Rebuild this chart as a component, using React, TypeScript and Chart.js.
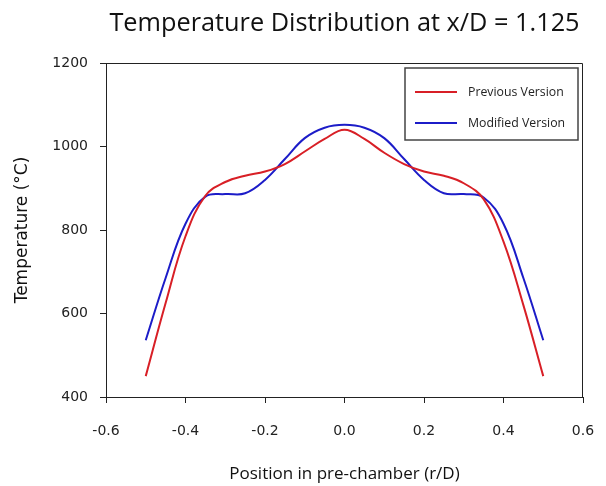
import React, { useEffect, useRef } from "react";
import { Chart, registerables } from "chart.js";

Chart.register(...registerables);

const chartTitle = "Temperature Distribution at x/D = 1.125";
const xAxisTitle = "Position in pre-chamber (r/D)";
const yAxisTitle = "Temperature (°C)";
const seriesLabels = ["Previous Version", "Modified Version"];

const positions = [
  -0.5, -0.45, -0.4, -0.35, -0.3, -0.25, -0.2, -0.15, -0.1, -0.05, 0,
  0.05, 0.1, 0.15, 0.2, 0.25, 0.3, 0.35, 0.4, 0.45, 0.5,
];
const previousVersion = [
  450, 625, 785, 882, 915, 930, 940, 958, 988, 1018, 1040,
  1018, 985, 958, 940, 930, 912, 874, 772, 620, 450,
];
const modifiedVersion = [
  536, 685, 815, 880, 886, 888, 920, 970, 1020, 1045, 1052,
  1045, 1020, 970, 920, 888, 886, 878, 815, 685, 536,
];

const xTicks = { min: -0.6, max: 0.6, step: 0.2 };
const yTicks = { min: 400, max: 1200, step: 200 };

const RED = "#d81f26";
const BLUE = "#1c1cc8";

const decorPlugin = {
  id: "decor",
  afterDraw(chart: any) {
    const ctx = chart.ctx;
    const a = chart.chartArea;
    ctx.save();
    // frame
    ctx.strokeStyle = "#222";
    ctx.lineWidth = 1;
    ctx.beginPath();
    ctx.moveTo(a.left + 0.5, a.top + 0.5);
    ctx.lineTo(a.right - 0.5, a.top + 0.5);
    ctx.lineTo(a.right - 0.5, a.bottom);
    ctx.stroke();
    // title
    ctx.fillStyle = "#111";
    ctx.font = "25.3px 'Open Sans'";
    ctx.textAlign = "center";
    ctx.textBaseline = "middle";
    ctx.fillText(chartTitle, (a.left + a.right) / 2, 24);
    // legend
    const lx = 405, ly = 68, lw = 173, lh = 72;
    ctx.fillStyle = "#fff";
    ctx.fillRect(lx, ly, lw, lh);
    ctx.strokeStyle = "#444";
    ctx.lineWidth = 1.5;
    ctx.strokeRect(lx, ly, lw, lh);
    ctx.font = "12.3px 'Open Sans'";
    ctx.textAlign = "left";
    chart.data.datasets.forEach((ds: any, i: number) => {
      const y = 92 + i * 31;
      ctx.strokeStyle = ds.borderColor;
      ctx.lineWidth = 2;
      ctx.beginPath();
      ctx.moveTo(415, y);
      ctx.lineTo(457, y);
      ctx.stroke();
      ctx.fillStyle = "#222";
      ctx.fillText(ds.label, 468, y);
    });
    ctx.restore();
  },
};

export default function App() {
  const ref = useRef<HTMLCanvasElement>(null);
  useEffect(() => {
    if (!ref.current) return;
    const chart = new Chart(ref.current, {
      type: "line",
      data: {
        datasets: [
          {
            label: seriesLabels[0],
            data: positions.map((x, i) => ({ x, y: previousVersion[i] })),
            borderColor: RED,
            backgroundColor: RED,
            borderWidth: 2,
            pointRadius: 0,
            tension: 0.4,
          },
          {
            label: seriesLabels[1],
            data: positions.map((x, i) => ({ x, y: modifiedVersion[i] })),
            borderColor: BLUE,
            backgroundColor: BLUE,
            borderWidth: 2,
            pointRadius: 0,
            tension: 0.4,
          },
        ],
      },
      options: {
        responsive: false,
        animation: false,
        layout: { autoPadding: false, padding: { top: 63, right: 23, left: 0, bottom: 0 } },
        plugins: { legend: { display: false }, title: { display: false }, tooltip: { enabled: false } },
        scales: {
          x: {
            type: "linear",
            min: xTicks.min,
            max: xTicks.max,
            afterFit: (s: any) => { s.height = 89; s.paddingLeft = 0; s.paddingRight = 0; },
            ticks: {
              stepSize: xTicks.step,
              callback: (v: any) => Number(v).toFixed(1),
              color: "#222",
              font: { family: "'DejaVu Sans'", size: 14 },
              padding: 20,
              maxRotation: 0,
            },
            grid: { drawOnChartArea: false, drawTicks: true, tickLength: 6, color: "#222" },
            border: { color: "#222", width: 1 },
            title: {
              display: true,
              text: xAxisTitle,
              color: "#111",
              font: { family: "'Open Sans'", size: 17 },
              padding: { top: 0, bottom: 2 },
            },
          },
          y: {
            type: "linear",
            min: yTicks.min,
            max: yTicks.max,
            afterFit: (s: any) => { s.width = 106; s.paddingTop = 0; s.paddingBottom = 0; },
            ticks: {
              stepSize: yTicks.step,
              callback: (v: any) => String(v),
              color: "#222",
              font: { family: "'DejaVu Sans'", size: 14 },
              padding: 12,
            },
            grid: { drawOnChartArea: false, drawTicks: true, tickLength: 6, color: "#222" },
            border: { color: "#222", width: 1 },
            title: {
              display: true,
              text: yAxisTitle,
              color: "#111",
              font: { family: "'DejaVu Sans'", size: 17 },
              padding: { top: 12, bottom: 0 },
            },
          },
        },
      },
      plugins: [decorPlugin],
    } as any);
    return () => chart.destroy();
  }, []);
  return (
    <div style={{ position: "fixed", left: 0, top: 0, width: 606, height: 486, background: "#fff" }}>
      <canvas ref={ref} width={606} height={486} />
    </div>
  );
}
